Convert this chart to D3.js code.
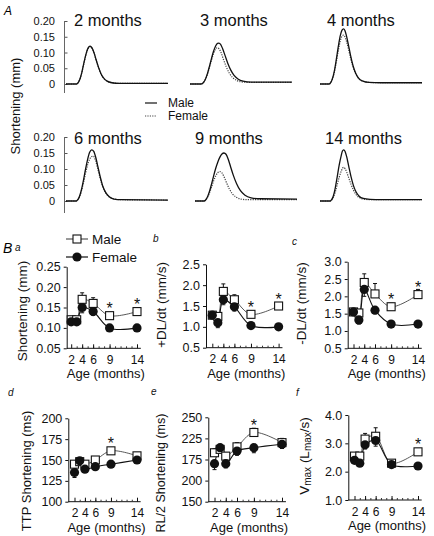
<!DOCTYPE html>
<html><head><meta charset="utf-8">
<script src="https://cdn.jsdelivr.net/npm/d3@7"></script>
<style>body{margin:0;background:#fff}svg{display:block;font-family:"Liberation Sans",Arial,Helvetica,sans-serif}</style>
</head><body><svg id="c" width="434" height="536"></svg>
<script>
// ---------- DATA: panel A (shortening traces, [time ms, shortening mm]) ----------
const traceAges = [2, 3, 4, 6, 9, 14];
const traceMale2 = [[0,0],[50,0],[58,0.003],[68,0.015],[78,0.038],[88,0.068],[98,0.095],[108,0.114],[118,0.12],[128,0.114],[138,0.098],[148,0.076],[160,0.052],[172,0.032],[186,0.018],[202,0.009],[225,0.004],[260,0.002],[500,0.002]];
const traceFemale2 = [[0,0],[50,0],[58,0.003],[68,0.015],[78,0.037],[88,0.066],[98,0.093],[108,0.112],[118,0.118],[128,0.113],[138,0.097],[148,0.075],[160,0.051],[172,0.031],[186,0.017],[202,0.009],[225,0.004],[260,0.002],[500,0.002]];
const traceMale3 = [[0,0],[55,0],[65,0.004],[75,0.014],[85,0.032],[95,0.055],[105,0.08],[115,0.103],[125,0.12],[135,0.129],[142,0.13],[150,0.126],[160,0.112],[172,0.09],[185,0.066],[200,0.044],[215,0.028],[235,0.016],[260,0.009],[300,0.006],[500,0.006]];
const traceFemale3 = [[0,0],[55,0],[65,0.004],[75,0.014],[85,0.03],[95,0.052],[105,0.075],[115,0.096],[125,0.11],[133,0.115],[142,0.112],[152,0.1],[164,0.078],[178,0.054],[193,0.034],[210,0.02],[230,0.011],[260,0.006],[300,0.005],[500,0.005]];
const traceMale4 = [[0,0],[45,0],[52,0.004],[60,0.015],[70,0.04],[80,0.078],[90,0.12],[100,0.155],[108,0.171],[115,0.175],[122,0.17],[130,0.152],[140,0.122],[150,0.09],[162,0.058],[175,0.034],[190,0.018],[210,0.009],[240,0.005],[300,0.004],[500,0.004]];
const traceFemale4 = [[0,0],[45,0],[52,0.004],[60,0.014],[70,0.036],[80,0.07],[90,0.107],[100,0.138],[108,0.152],[115,0.155],[122,0.15],[130,0.135],[140,0.11],[150,0.082],[162,0.054],[175,0.032],[190,0.017],[210,0.009],[240,0.005],[300,0.004],[500,0.004]];
const traceMale6 = [[0,0],[50,0],[58,0.004],[66,0.014],[76,0.036],[86,0.066],[96,0.1],[106,0.13],[116,0.152],[126,0.16],[136,0.155],[146,0.136],[156,0.108],[168,0.075],[180,0.047],[195,0.026],[212,0.013],[235,0.006],[270,0.004],[500,0.003]];
const traceFemale6 = [[0,0],[50,0],[58,0.004],[66,0.013],[76,0.032],[86,0.058],[96,0.087],[106,0.113],[116,0.131],[126,0.139],[134,0.14],[144,0.128],[154,0.105],[166,0.075],[178,0.048],[192,0.028],[208,0.015],[230,0.007],[270,0.004],[500,0.003]];
const traceMale9 = [[0,0],[45,0],[52,0.003],[62,0.014],[72,0.032],[82,0.055],[92,0.08],[102,0.103],[112,0.122],[122,0.137],[132,0.147],[142,0.15],[152,0.146],[162,0.132],[174,0.108],[188,0.08],[204,0.054],[222,0.033],[245,0.018],[275,0.01],[320,0.007],[500,0.006]];
const traceFemale9 = [[0,0],[45,0],[52,0.003],[62,0.012],[72,0.027],[82,0.045],[92,0.064],[102,0.079],[112,0.089],[122,0.092],[132,0.088],[142,0.076],[154,0.058],[168,0.038],[184,0.022],[202,0.012],[225,0.006],[260,0.004],[500,0.004]];
const traceMale14 = [[0,0],[50,0],[57,0.004],[65,0.015],[74,0.038],[84,0.074],[94,0.112],[104,0.142],[110,0.156],[116,0.16],[123,0.155],[131,0.138],[141,0.108],[152,0.076],[164,0.048],[177,0.028],[192,0.015],[212,0.008],[245,0.005],[300,0.004],[500,0.004]];
const traceFemale14 = [[0,0],[50,0],[57,0.003],[65,0.011],[74,0.026],[84,0.05],[94,0.074],[104,0.093],[110,0.102],[116,0.105],[123,0.101],[131,0.09],[141,0.072],[152,0.052],[164,0.034],[177,0.02],[192,0.011],[212,0.006],[245,0.004],[300,0.004],[500,0.004]];
const aTicks = [0, 0.05, 0.10, 0.15, 0.20];

// ---------- DATA: panel B ----------
const ages = [2, 3, 4, 6, 9, 14];
const ageTicks = [2, 4, 6, 9, 14];
const shortMale = [0.12, 0.12, 0.17, 0.16, 0.13, 0.14];
const shortFemale = [0.115, 0.115, 0.15, 0.14, 0.10, 0.10];
const shortMaleErr = [0.008, 0.008, 0.016, 0.014, 0.006, 0.006];
const shortFemaleErr = [0.008, 0.008, 0.013, 0.009, 0.007, 0.008];
const plusMale = [1.28, 1.25, 1.85, 1.65, 1.3, 1.5];
const plusFemale = [1.28, 1.1, 1.65, 1.48, 1.03, 1.0];
const plusMaleErr = [0.06, 0.06, 0.18, 0.12, 0.07, 0.06];
const plusFemaleErr = [0.06, 0.12, 0.12, 0.1, 0.05, 0.05];
const minusMale = [1.55, 1.52, 2.4, 2.07, 1.7, 2.05];
const minusFemale = [1.55, 1.32, 2.2, 1.6, 1.2, 1.2];
const minusMaleErr = [0.08, 0.1, 0.25, 0.3, 0.1, 0.15];
const minusFemaleErr = [0.1, 0.12, 0.2, 0.1, 0.05, 0.06];
const ttpMale = [145, 148, 145, 150, 161, 155];
const ttpFemale = [135, 149, 139, 142, 145, 150];
const ttpMaleErr = [3, 3, 3, 3, 3, 3];
const ttpFemaleErr = [6, 3, 3, 3, 3, 3];
const rlMale = [208, 212, 204, 215, 232, 220];
const rlFemale = [195, 214, 195, 210, 214, 218];
const rlMaleErr = [5, 5, 4, 5, 5, 5];
const rlFemaleErr = [7, 5, 5, 5, 6, 5];
const vmaxMale = [2.55, 2.55, 3.15, 3.25, 2.3, 2.7];
const vmaxFemale = [2.4, 2.3, 2.95, 3.1, 2.25, 2.2];
const vmaxMaleErr = [0.1, 0.1, 0.2, 0.3, 0.08, 0.1];
const vmaxFemaleErr = [0.1, 0.1, 0.15, 0.2, 0.08, 0.08];
const shortTicks = [0.05, 0.10, 0.15, 0.20, 0.25];
const plusTicks = [0.5, 1.0, 1.5, 2.0, 2.5];
const minusTicks = [0.5, 1.0, 1.5, 2.0, 2.5, 3.0];
const ttpTicks = [100, 125, 150, 175, 200];
const rlTicks = [150, 175, 200, 225, 250];
const rlTickLabels = ["150", "200", "175", "225", "250"];
const vmaxTicks = [1, 2, 3, 4];

// ---------- DRAW ----------
const svg = d3.select("#c");
const ink = "#111";

// Panel A
svg.append("text").attr("x", 4).attr("y", 15).attr("font-size", 12).attr("font-style", "italic").text("A");
const traceMale = [traceMale2, traceMale3, traceMale4, traceMale6, traceMale9, traceMale14];
const traceFemale = [traceFemale2, traceFemale3, traceFemale4, traceFemale6, traceFemale9, traceFemale14];
const aRows = [{y0: 84, y20: 21, yLow: 93}, {y0: 201, y20: 137, yLow: 213}];
const aLayout = [
  {x: 66, row: 0, tx: 74}, {x: 190, row: 0, tx: 200}, {x: 320, row: 0, tx: 327},
  {x: 66, row: 1, tx: 74}, {x: 195, row: 1, tx: 195}, {x: 320, row: 1, tx: 325}
];
const aTitleY = [26, 144];
aRows.forEach((r, ri) => {
  const y = d3.scaleLinear().domain([0, 0.2]).range([r.y0, r.y20]);
  const ax = svg.append("g").attr("transform", "translate(64.5,0)")
    .call(d3.axisLeft(y).tickValues(aTicks).tickFormat(d => d === 0 ? "0" : d3.format(".2f")(d)).tickSize(-3).tickSizeOuter(0).tickPadding(9.5));
  ax.select(".domain").remove();
  ax.selectAll("line").attr("stroke", "#555");
  ax.selectAll("text").attr("font-size", 11).attr("fill", ink).attr("font-family", "Liberation Sans, Arial, sans-serif");
  svg.append("line").attr("x1", 64.5).attr("x2", 64.5).attr("y1", y(0.2)).attr("y2", r.yLow).attr("stroke", "#666").attr("stroke-width", 1);
});
aLayout.forEach((L, i) => {
  const r = aRows[L.row];
  const y = d3.scaleLinear().domain([0, 0.2]).range([r.y0, r.y20]);
  const x = d3.scaleLinear().domain([0, 500]).range([L.x, L.x + 102]);
  const line = d3.line().x(d => x(d[0])).y(d => y(d[1])).curve(d3.curveMonotoneX);
  svg.append("path").attr("d", line(traceFemale[i])).attr("fill", "none").attr("stroke", "#444").attr("stroke-width", 1.2).attr("stroke-dasharray", "1.2,1.2");
  svg.append("path").attr("d", line(traceMale[i])).attr("fill", "none").attr("stroke", ink).attr("stroke-width", 1.3);
  svg.append("text").attr("x", L.tx).attr("y", aTitleY[L.row]).attr("font-size", 16.5).attr("fill", ink).text(traceAges[i] + " months");
});
svg.append("text").attr("transform", "translate(20,106) rotate(-90)").attr("text-anchor", "middle").attr("font-size", 13).attr("fill", ink).text("Shortening (mm)");
svg.append("line").attr("x1", 145).attr("x2", 157).attr("y1", 103).attr("y2", 103).attr("stroke", ink).attr("stroke-width", 1.2);
svg.append("text").attr("x", 168).attr("y", 107).attr("font-size", 12).attr("fill", ink).text("Male");
svg.append("line").attr("x1", 145).attr("x2", 157).attr("y1", 116).attr("y2", 116).attr("stroke", "#444").attr("stroke-width", 1.2).attr("stroke-dasharray", "1.2,1.2");
svg.append("text").attr("x", 168).attr("y", 120).attr("font-size", 12).attr("fill", ink).text("Female");

// Panel B
svg.append("text").attr("x", 3).attr("y", 253).attr("font-size", 14).attr("font-style", "italic").text("B");
function square(g, cx, cy) {
  g.append("rect").attr("x", cx - 4).attr("y", cy - 4).attr("width", 8).attr("height", 8).attr("fill", "#fff").attr("stroke", ink).attr("stroke-width", 1.1);
}
function circle(g, cx, cy) {
  g.append("circle").attr("cx", cx).attr("cy", cy).attr("r", 4.6).attr("fill", ink);
}
svg.append("line").attr("x1", 66).attr("x2", 88).attr("y1", 239).attr("y2", 239).attr("stroke", "#333").attr("stroke-width", 1);
square(svg, 77, 239);
svg.append("text").attr("x", 92).attr("y", 244).attr("font-size", 13.5).attr("fill", ink).text("Male");
svg.append("line").attr("x1", 66).attr("x2", 88).attr("y1", 257).attr("y2", 257).attr("stroke", ink).attr("stroke-width", 1.2);
circle(svg, 77, 257);
svg.append("text").attr("x", 92).attr("y", 262).attr("font-size", 13.5).attr("fill", ink).text("Female");

const panels = [
  {letter: "a", lx: 15, ly: 251, male: shortMale, female: shortFemale, mErr: shortMaleErr, fErr: shortFemaleErr, ticks: shortTicks, labels: shortTicks.map(d3.format(".2f")), ymin: 0.05, ymax: 0.25, stars: [9, 14],
   ylabel: ["Shortening (mm)"], axisX: 66.7, x2: 71.2, x14: 137, yBot: 348.3, yTop: 266.7, labX: 22, labY: 311, labSize: 13.5},
  {letter: "b", lx: 153, ly: 242, male: plusMale, female: plusFemale, mErr: plusMaleErr, fErr: plusFemaleErr, ticks: plusTicks, labels: plusTicks.map(d3.format(".1f")), ymin: 0.5, ymax: 2.5, stars: [9, 14],
   ylabel: ["+DL/dt (mm/s)"], axisX: 206, x2: 212.3, x14: 278.6, yBot: 347.7, yTop: 264.3, labX: 161, labY: 305, labSize: 13.5},
  {letter: "c", lx: 292, ly: 245, male: minusMale, female: minusFemale, mErr: minusMaleErr, fErr: minusFemaleErr, ticks: minusTicks, labels: minusTicks.map(d3.format(".1f")), ymin: 0.5, ymax: 3.0, stars: [9, 14],
   ylabel: ["-DL/dt (mm/s)"], axisX: 347.7, x2: 353.5, x14: 418, yBot: 348.3, yTop: 261.7, labX: 301, labY: 303.5, labSize: 13.5},
  {letter: "d", lx: 8, ly: 396, male: ttpMale, female: ttpFemale, mErr: ttpMaleErr, fErr: ttpFemaleErr, ticks: ttpTicks, labels: ttpTicks.map(String), ymin: 100, ymax: 200, stars: [9],
   ylabel: ["TTP Shortening (ms)"], axisX: 68.3, x2: 74.5, x14: 137, yBot: 501.7, yTop: 418.3, labX: 26, labY: 471, labSize: 13},
  {letter: "e", lx: 151, ly: 395, male: rlMale, female: rlFemale, mErr: rlMaleErr, fErr: rlFemaleErr, ticks: rlTicks, labels: rlTickLabels, ymin: 150, ymax: 250, stars: [9],
   ylabel: ["RL/2 Shortening (ms)"], axisX: 208.3, x2: 214.5, x14: 282, yBot: 501.7, yTop: 417.3, labX: 161, labY: 473, labSize: 12.5},
  {letter: "f", lx: 296, ly: 396, male: vmaxMale, female: vmaxFemale, mErr: vmaxMaleErr, fErr: vmaxFemaleErr, ticks: vmaxTicks, labels: vmaxTicks.map(d3.format(".1f")), ymin: 1, ymax: 4, stars: [14],
   ylabel: null, axisX: 348.3, x2: 354.5, x14: 418, yBot: 500, yTop: 415, labX: 304, labY: 456, labSize: 13.5}
];

panels.forEach(p => {
  const g = svg.append("g");
  const x = d3.scaleLinear().domain([2, 14]).range([p.x2, p.x14]);
  const y = d3.scaleLinear().domain([p.ymin, p.ymax]).range([p.yBot, p.yTop]);
  g.append("text").attr("x", p.lx).attr("y", p.ly).attr("font-size", 10).attr("font-style", "italic").attr("fill", ink).text(p.letter);
  // y axis
  const ya = g.append("g").attr("transform", `translate(${p.axisX},0)`)
    .call(d3.axisLeft(y).tickValues(p.ticks).tickFormat((d, i) => p.labels[i]).tickSize(3).tickSizeOuter(0).tickPadding(3));
  ya.select(".domain").attr("stroke", ink).attr("stroke-width", 1);
  ya.selectAll("line").attr("stroke", ink);
  ya.selectAll("text").attr("font-size", 12.5).attr("fill", ink).attr("font-family", "Liberation Sans, Arial, sans-serif");
  // x axis
  g.append("line").attr("x1", p.axisX).attr("x2", x(14.7)).attr("y1", p.yBot).attr("y2", p.yBot).attr("stroke", ink).attr("stroke-width", 1);
  const minor = g.append("g").attr("transform", `translate(0,${p.yBot})`)
    .call(d3.axisBottom(x).tickValues(d3.range(3, 14)).tickFormat("").tickSize(-2).tickSizeOuter(0));
  minor.select(".domain").remove();
  minor.selectAll("line").attr("stroke", "#333");
  const xa = g.append("g").attr("transform", `translate(0,${p.yBot})`)
    .call(d3.axisBottom(x).tickValues(ageTicks).tickSize(-4).tickSizeOuter(0).tickPadding(7));
  xa.select(".domain").remove();
  xa.selectAll("line").attr("stroke", ink);
  xa.selectAll("text").attr("font-size", 12).attr("fill", ink).attr("font-family", "Liberation Sans, Arial, sans-serif");
  g.append("text").attr("x", (p.axisX + x(14.7)) / 2 + 2).attr("y", p.yBot + 30).attr("text-anchor", "middle").attr("font-size", 13).attr("fill", ink).text("Age (months)");
  // y label
  const yl = g.append("text").attr("transform", `translate(${p.labX},${p.labY}) rotate(-90)`).attr("text-anchor", "middle").attr("font-size", p.labSize).attr("fill", ink).attr("dominant-baseline", "central");
  if (p.ylabel) yl.text(p.ylabel[0]);
  else {
    yl.append("tspan").text("V");
    yl.append("tspan").attr("font-size", 10).attr("dy", 3).text("max");
    yl.append("tspan").attr("dy", -3).text(" (L");
    yl.append("tspan").attr("font-size", 10).attr("dy", 3).text("max");
    yl.append("tspan").attr("dy", -3).text("/s)");
  }
  // lines
  const line = d3.line().x((d, i) => x(ages[i])).y(d => y(d)).curve(d3.curveCatmullRom.alpha(0.5));
  g.append("path").attr("d", line(p.male)).attr("fill", "none").attr("stroke", "#444").attr("stroke-width", 0.9);
  g.append("path").attr("d", line(p.female)).attr("fill", "none").attr("stroke", ink).attr("stroke-width", 1.1);
  // error bars
  ages.forEach((a, i) => {
    const cx = x(a);
    const ym = y(p.male[i] + p.mErr[i]);
    g.append("line").attr("x1", cx).attr("x2", cx).attr("y1", y(p.male[i])).attr("y2", ym).attr("stroke", ink).attr("stroke-width", 1);
    g.append("line").attr("x1", cx - 2).attr("x2", cx + 2).attr("y1", ym).attr("y2", ym).attr("stroke", ink).attr("stroke-width", 1);
    const yf = y(p.female[i] - p.fErr[i]);
    g.append("line").attr("x1", cx).attr("x2", cx).attr("y1", y(p.female[i])).attr("y2", yf).attr("stroke", ink).attr("stroke-width", 1);
    g.append("line").attr("x1", cx - 2).attr("x2", cx + 2).attr("y1", yf).attr("y2", yf).attr("stroke", ink).attr("stroke-width", 1);
  });
  ages.forEach((a, i) => square(g, x(a), y(p.male[i])));
  ages.forEach((a, i) => circle(g, x(a), y(p.female[i])));
  p.stars.forEach(s => {
    const i = ages.indexOf(s);
    g.append("text").attr("x", x(s)).attr("y", y(p.male[i]) - 1.5).attr("text-anchor", "middle").attr("font-size", 16).attr("fill", ink).text("*");
  });
});
</script></body></html>
